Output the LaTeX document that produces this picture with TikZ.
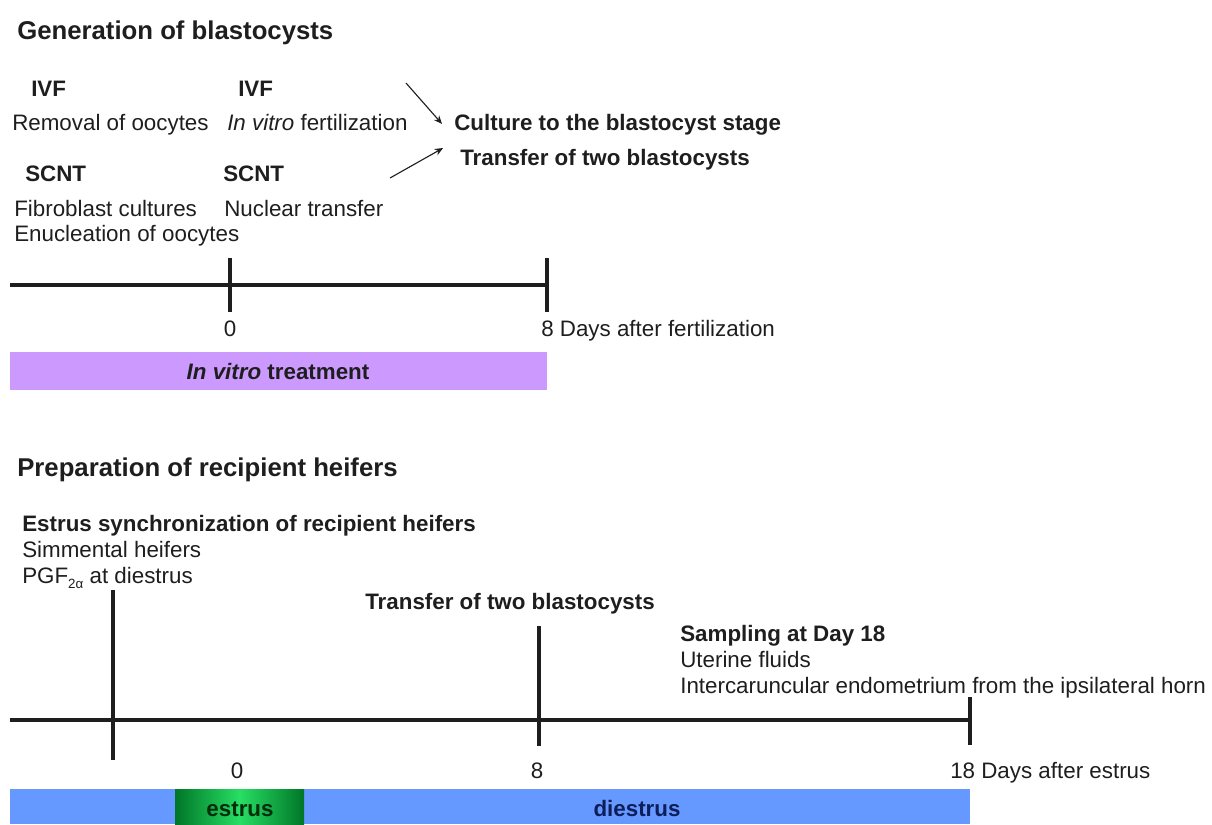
\documentclass[tikz,border=0pt]{standalone}
\usepackage{fontspec}
\setmainfont{Liberation Sans}
\usepackage{tikz}
\usetikzlibrary{arrows.meta}
\definecolor{ink}{RGB}{30,30,30}
\definecolor{vitro}{RGB}{204,153,255}
\definecolor{diest}{RGB}{102,153,255}
\definecolor{estdark}{RGB}{0,118,40}
\definecolor{estlight}{RGB}{40,222,100}
\definecolor{esttext}{RGB}{0,45,12}
\definecolor{diesttext}{RGB}{14,30,90}
\tikzstyle{arrow}     = [line width=0.8pt,->,>={Stealth[length=6pt,width=5pt]},ink]
\tikzstyle{axis}      = [line width=2.6pt,ink]
\tikzstyle{desc}      = [anchor=west,inner sep=0pt,text height=11.4pt,text depth=0pt,text=ink,font=\fontsize{15.9}{19}\selectfont]
\tikzstyle{stage}     = [desc,font=\bfseries\fontsize{15.9}{19}\selectfont]
\tikzstyle{heading}   = [desc,text height=13.1pt,font=\bfseries\fontsize{18.3}{22}\selectfont]
\tikzstyle{num}       = [desc,anchor=center]

\begin{document}
\begin{tikzpicture}[x=0.025cm,y=-0.025cm]
           \useasboundingbox(0,0)rectangle(1212,824);
           % generation of blastocysts
           \node[heading](gen)at(17,30){Generation of blastocysts};
           \node[stage](ivfa)at(31,88){IVF};
           \node[stage](ivfb)at(238,88){IVF};
           \node[desc](remov)at(12,122){Removal of oocytes};
           \node[desc](fert)at(227,122){\textit{In vitro} fertilization};
           \node[stage](scnta)at(25,173){SCNT};
           \node[stage](scntb)at(223,173){SCNT};
           \node[desc](fibro)at(14,208){Fibroblast cultures};
           \node[desc](nucl)at(224,208){Nuclear transfer};
           \node[desc](enuc)at(14,233){Enucleation of oocytes};
           \node[stage](cult)at(454,122){Culture to the blastocyst stage};
           \node[stage](trans)at(460,157){Transfer of two blastocysts};
           \coordinate(p)at(406,83);
           \coordinate(q)at(390,178);
           \draw[arrow](p)--([xshift=-8.5pt,yshift=-1.4pt]cult.west);
           \draw[arrow](q)--([xshift=-12pt,yshift=6.4pt]trans.west);
           \draw[axis](10,285)--(547,285);
           \draw[axis](230,258)--(230,312);
           \draw[axis](547,258)--(547,312);
           \node[num](z1)at(230,328){0};
           \node[desc](d1)at(541,328){8 Days after fertilization};
           \fill[vitro](10,352)rectangle(547,390);
           \node[num](vt)at(278,371){\textbf{\textit{In vitro} treatment}};
           % preparation of recipient heifers
           \node[heading](prep)at(17,467){Preparation of recipient heifers};
           \node[stage](sync)at(22,523){Estrus synchronization of recipient heifers};
           \node[desc](simm)at(22,549){Simmental heifers};
           \node[desc](pgf)at(22,575){PGF\raisebox{-0.45ex}{\fontsize{9.5}{9.5}\selectfont 2α} at diestrus};
           \node[stage](trans2)at(365,601){Transfer of two blastocysts};
           \node[stage](samp)at(680,633){Sampling at Day 18};
           \node[desc](uter)at(680,659){Uterine fluids};
           \node[desc](inter)at(680,685){Intercaruncular endometrium from the ipsilateral horn};
           \draw[axis](10,720)--(970,720);
           \draw[axis](113,590)--(113,760);
           \draw[axis](539,626)--(539,746);
           \draw[axis](970,697)--(970,745);
           \node[num](z2)at(237,770){0};
           \node[num](e2)at(537,770){8};
           \node[desc](d2)at(950,770){18 Days after estrus};
           \fill[diest](10,789)rectangle(970,824);
           \shade[left color=estdark,right color=estdark,middle color=estlight](175,789)rectangle(304,824);
           \node[num,text=esttext](est)at(240,808){\textbf{estrus}};
           \node[num,text=diesttext](die)at(637,808){\textbf{diestrus}};
\end{tikzpicture}
\end{document}
